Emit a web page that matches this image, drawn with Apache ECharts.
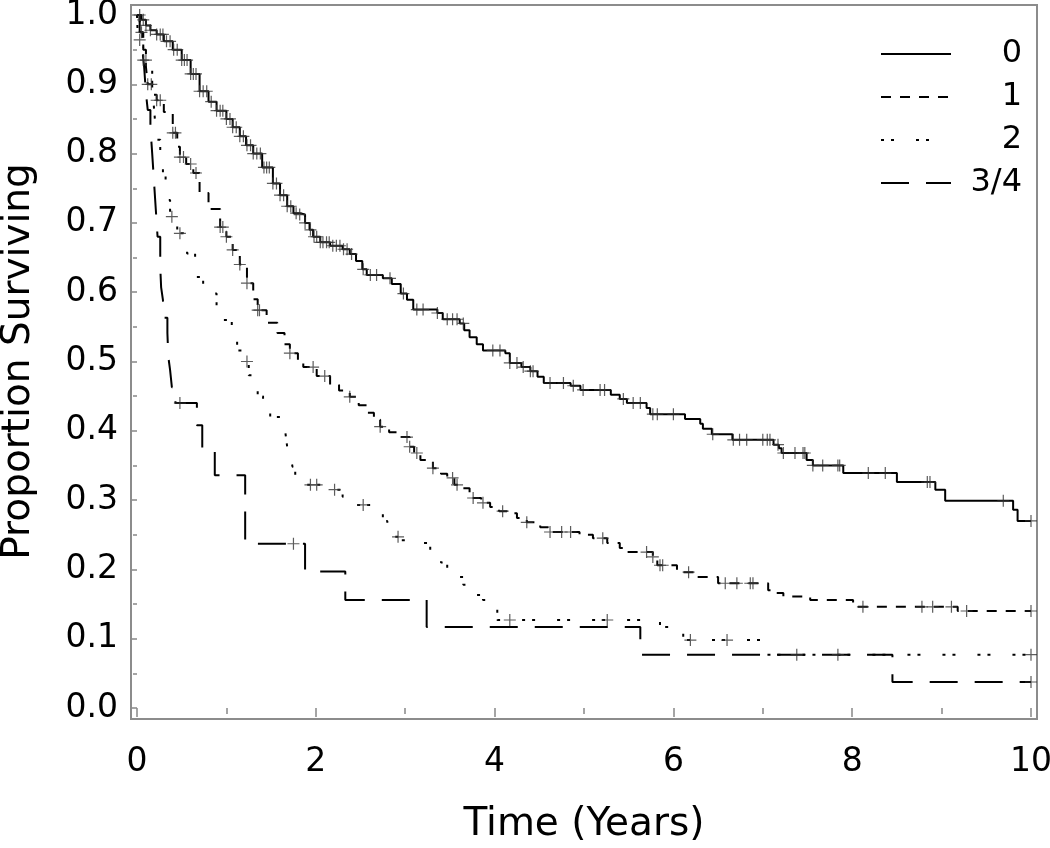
<!DOCTYPE html>
<html>
<head>
<meta charset="utf-8">
<script src="https://cdn.jsdelivr.net/npm/echarts@6/dist/echarts.min.js"></script>
<style>
html,body{margin:0;padding:0;background:#fff;}
#chart{width:1050px;height:848px;}
</style>
</head>
<body>
<div id="chart"></div>
<script>
// Kaplan-Meier step points [time (years), proportion surviving]
var groupNames = ['0', '1', '2', '3/4'];
var km0 = [[0,1],[0.05,0.993],[0.10,0.985],[0.15,0.978],[0.22,0.972],[0.30,0.962],[0.40,0.95],[0.50,0.935],[0.60,0.915],[0.70,0.89],[0.80,0.875],[0.89,0.862],[1.00,0.85],[1.07,0.838],[1.15,0.825],[1.22,0.812],[1.30,0.80],[1.40,0.78],[1.52,0.757],[1.60,0.74],[1.68,0.724],[1.75,0.714],[1.82,0.712],[1.88,0.70],[1.93,0.69],[1.97,0.68],[2.05,0.672],[2.16,0.667],[2.30,0.662],[2.38,0.655],[2.45,0.645],[2.52,0.633],[2.57,0.625],[2.75,0.62],[2.85,0.612],[2.95,0.598],[3.02,0.589],[3.09,0.575],[3.36,0.57],[3.42,0.561],[3.61,0.555],[3.66,0.545],[3.72,0.535],[3.80,0.525],[3.87,0.516],[4.12,0.512],[4.17,0.498],[4.30,0.492],[4.40,0.486],[4.48,0.478],[4.55,0.469],[4.85,0.465],[4.96,0.459],[5.30,0.452],[5.40,0.446],[5.48,0.44],[5.70,0.433],[5.74,0.424],[6.13,0.417],[6.30,0.41],[6.33,0.403],[6.43,0.395],[6.66,0.387],[7.12,0.38],[7.18,0.375],[7.21,0.368],[7.49,0.358],[7.56,0.35],[7.90,0.339],[8.50,0.326],[8.93,0.315],[9.04,0.299],[9.80,0.286],[9.85,0.27],[10,0.27]];
var km1 = [[0,1],[0.03,0.975],[0.07,0.95],[0.10,0.925],[0.12,0.90],[0.17,0.885],[0.22,0.877],[0.30,0.86],[0.40,0.83],[0.45,0.81],[0.48,0.795],[0.55,0.785],[0.63,0.772],[0.70,0.743],[0.80,0.72],[0.93,0.694],[1.00,0.68],[1.07,0.661],[1.15,0.64],[1.23,0.613],[1.30,0.59],[1.35,0.574],[1.45,0.556],[1.57,0.541],[1.65,0.525],[1.71,0.512],[1.80,0.50],[1.86,0.492],[2.01,0.479],[2.16,0.466],[2.26,0.458],[2.38,0.449],[2.48,0.437],[2.57,0.426],[2.65,0.416],[2.72,0.406],[2.82,0.398],[2.91,0.391],[3.05,0.377],[3.10,0.368],[3.17,0.358],[3.31,0.346],[3.40,0.338],[3.47,0.332],[3.55,0.322],[3.61,0.317],[3.72,0.303],[3.85,0.296],[3.95,0.29],[4.05,0.284],[4.14,0.281],[4.25,0.274],[4.36,0.268],[4.51,0.261],[4.60,0.254],[4.95,0.25],[5.10,0.245],[5.26,0.238],[5.40,0.231],[5.48,0.225],[5.77,0.218],[5.82,0.206],[6.04,0.196],[6.26,0.189],[6.50,0.18],[7.06,0.17],[7.15,0.166],[7.23,0.161],[7.53,0.156],[8.01,0.146],[9.18,0.14],[10,0.14]];
var km2 = [[0,1],[0.01,0.964],[0.07,0.935],[0.12,0.92],[0.17,0.899],[0.18,0.882],[0.20,0.85],[0.22,0.82],[0.26,0.795],[0.29,0.772],[0.32,0.75],[0.34,0.733],[0.37,0.709],[0.45,0.685],[0.52,0.67],[0.56,0.656],[0.65,0.622],[0.74,0.598],[0.89,0.57],[0.96,0.56],[1.06,0.535],[1.12,0.516],[1.20,0.50],[1.25,0.48],[1.29,0.469],[1.35,0.45],[1.41,0.434],[1.49,0.42],[1.60,0.405],[1.66,0.397],[1.68,0.377],[1.72,0.36],[1.74,0.348],[1.77,0.333],[1.85,0.322],[2.12,0.315],[2.30,0.305],[2.40,0.293],[2.65,0.281],[2.75,0.27],[2.80,0.261],[2.88,0.247],[2.94,0.242],[3.20,0.238],[3.28,0.224],[3.40,0.21],[3.47,0.199],[3.52,0.189],[3.65,0.178],[3.72,0.17],[3.80,0.163],[3.87,0.156],[4.03,0.127],[5.85,0.117],[5.95,0.108],[6.11,0.098],[7.00,0.077],[10,0.077]];
var km3 = [[0,1],[0.03,0.975],[0.06,0.95],[0.08,0.925],[0.10,0.887],[0.12,0.863],[0.15,0.838],[0.17,0.80],[0.19,0.76],[0.21,0.72],[0.23,0.68],[0.26,0.636],[0.27,0.607],[0.29,0.589],[0.30,0.563],[0.34,0.541],[0.35,0.507],[0.37,0.488],[0.39,0.463],[0.43,0.44],[0.67,0.408],[0.73,0.372],[0.87,0.336],[1.21,0.237],[1.88,0.197],[2.33,0.156],[3.24,0.117],[5.63,0.077],[8.45,0.0375],[10,0.0375]];

// censoring times (years)
var cens0 = [0.03,0.07,0.10,0.15,0.22,0.26,0.29,0.33,0.37,0.41,0.45,0.50,0.53,0.56,0.60,0.63,0.66,0.70,0.74,0.78,0.83,0.89,0.93,0.96,1.00,1.04,1.07,1.11,1.15,1.19,1.23,1.27,1.30,1.34,1.38,1.42,1.45,1.48,1.52,1.56,1.60,1.64,1.68,1.72,1.78,1.82,1.88,1.94,1.98,2.01,2.05,2.08,2.12,2.15,2.19,2.23,2.27,2.31,2.35,2.40,2.53,2.61,2.68,2.83,2.98,3.13,3.20,3.36,3.47,3.53,3.58,3.65,3.98,4.06,4.17,4.25,4.32,4.40,4.43,4.62,4.77,4.88,4.99,5.18,5.23,5.44,5.55,5.63,5.77,5.82,6.00,6.44,6.67,6.74,6.82,7.00,7.05,7.08,7.17,7.23,7.36,7.45,7.47,7.56,7.67,7.84,7.86,8.18,8.37,8.84,8.87,9.69,10];
var cens1 = [0.05,0.12,0.16,0.22,0.26,0.40,0.43,0.48,0.52,0.60,0.66,0.93,0.96,1.00,1.07,1.15,1.23,1.35,1.37,1.71,1.97,2.10,2.38,2.72,3.02,3.05,3.13,3.31,3.53,3.58,3.76,3.87,4.09,4.36,4.62,4.75,4.85,5.21,5.70,5.77,5.85,5.88,6.17,6.58,6.71,6.86,6.89,8.12,8.78,8.90,9.11,9.28,10];
var cens2 = [0.03,0.07,0.10,0.39,0.48,1.23,1.94,2.01,2.21,2.53,2.92,4.17,5.26,6.19,6.60,10];
var cens3 = [0.48,1.75,7.38,7.84,10];

var xTicks = [0, 2, 4, 6, 8, 10];
var yTicks = [0, 0.1, 0.2, 0.3, 0.4, 0.5, 0.6, 0.7, 0.8, 0.9, 1.0];

var curves = [km0, km1, km2, km3];
var censors = [cens0, cens1, cens2, cens3];
var dashes = ['solid', [10, 9], [3, 7, 3, 22], [28, 17]];

function survAt(curve, t) {
  var v = curve[0][1];
  for (var i = 0; i < curve.length; i++) {
    if (curve[i][0] <= t) v = curve[i][1]; else break;
  }
  return v;
}

var FONT = '"DejaVu Sans", Verdana, sans-serif';
var series = [];
curves.forEach(function (c, i) {
  series.push({
    name: groupNames[i],
    type: 'line',
    step: 'end',
    symbol: 'none',
    showSymbol: false,
    data: c,
    lineStyle: { color: '#000', width: 2, type: dashes[i] },
    itemStyle: { color: '#000' },
    z: 3
  });
});
censors.forEach(function (cs, i) {
  series.push({
    name: 'cens' + i,
    type: 'scatter',
    symbol: 'path://M4.5,0H5.5V4.5H10V5.5H5.5V10H4.5V5.5H0V4.5H4.5Z',
    symbolSize: 12,
    itemStyle: { color: '#333' },
    data: cs.map(function (t) { return [t, survAt(curves[i], t)]; }),
    z: 4
  });
});

var chart = echarts.init(document.getElementById('chart'), null, { renderer: 'canvas' });
chart.setOption({
  animation: false,
  backgroundColor: '#fff',
  grid: { left: 137, right: 19, top: 15, bottom: 140, outerBoundsMode: 'none' },
  graphic: [{
    type: 'rect', shape: { x: 131, y: 5, width: 906, height: 714 },
    style: { fill: 'none', stroke: '#8c8c8c', lineWidth: 2 }, silent: true, z: 1
  }],
  legend: {
    data: groupNames,
    orient: 'vertical',
    left: 875, top: 33,
    itemWidth: 70, itemHeight: 14, itemGap: 11,
    selectedMode: false,
    itemStyle: { opacity: 0 },
    formatter: function (name) { return '{a|' + name + '}'; },
    textStyle: {
      fontFamily: FONT, fontSize: 32, color: '#000', lineHeight: 32,
      rich: { a: { width: 66, align: 'right', fontFamily: FONT, fontSize: 32, color: '#000', lineHeight: 32 } }
    }
  },
  xAxis: {
    type: 'value', min: 0, max: 10, interval: 2, offset: 11,
    name: 'Time (Years)', nameLocation: 'middle', nameGap: 86,
    nameTextStyle: { fontFamily: FONT, fontSize: 39, color: '#000' },
    axisLine: { show: false },
    axisTick: { show: true, length: 9, lineStyle: { color: '#888', width: 1.5 } },
    minorTick: { show: true, splitNumber: 2, length: 6, lineStyle: { color: '#888', width: 1.5 } },
    splitLine: { show: false },
    axisLabel: { fontFamily: FONT, fontSize: 33, color: '#000', margin: 27,
      formatter: function (v) { return xTicks.indexOf(v) >= 0 ? String(v) : ''; } }
  },
  yAxis: {
    type: 'value', min: 0, max: 1, interval: 0.1, offset: 6,
    name: 'Proportion Surviving', nameLocation: 'middle', nameGap: 93,
    nameTextStyle: { fontFamily: FONT, fontSize: 39, color: '#000' },
    axisLine: { show: false },
    axisTick: { show: true, length: 7, lineStyle: { color: '#888', width: 1.5 } },
    minorTick: { show: true, splitNumber: 2, length: 4, lineStyle: { color: '#888', width: 1.5 } },
    splitLine: { show: false },
    axisLabel: { fontFamily: FONT, fontSize: 33, color: '#000', margin: 13,
      formatter: function (v) { return v.toFixed(1); } }
  },
  series: series
});
</script>
</body>
</html>
